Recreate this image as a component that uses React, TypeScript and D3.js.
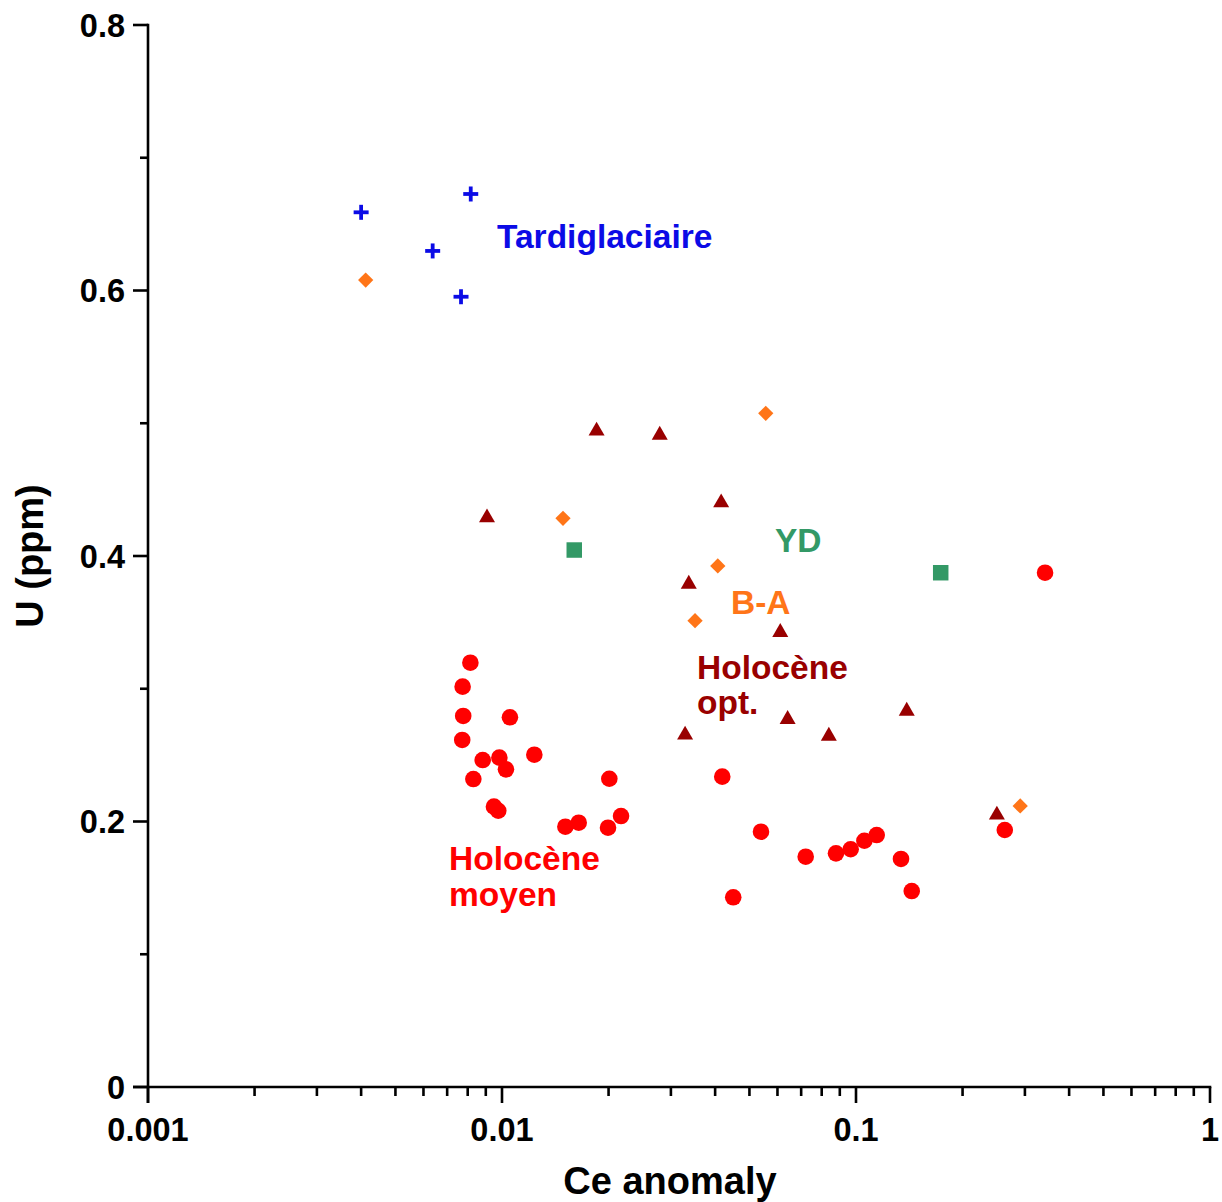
import React from "react";
import * as d3 from "d3";

// ---- data (Ce anomaly, U ppm) ----
const tardiX = [0.004, 0.00816, 0.00637, 0.00766];
const tardiY = [0.6589, 0.6727, 0.6298, 0.5953];

const baX = [0.00412, 0.0556, 0.01487, 0.0407, 0.0351, 0.291];
const baY = [0.6079, 0.5075, 0.4284, 0.3925, 0.3513, 0.2117];

const ydX = [0.016, 0.1735];
const ydY = [0.4045, 0.3874];

const optX = [0.0185, 0.0279, 0.00907, 0.0416, 0.0337, 0.0611, 0.0641, 0.1391, 0.0329, 0.0838, 0.25];
const optY = [0.4942, 0.4911, 0.4289, 0.4402, 0.3789, 0.3425, 0.277, 0.2832, 0.2652, 0.2644, 0.2049];

const moyX = [
  0.00814, 0.00774, 0.00777, 0.01053, 0.00772, 0.00882, 0.00983, 0.01026, 0.01234, 0.0083,
  0.00949, 0.00976, 0.0201, 0.0151, 0.01647, 0.01993, 0.02169, 0.0419, 0.045, 0.0539,
  0.0721, 0.0878, 0.0966, 0.1056, 0.1144, 0.134, 0.1437, 0.2632, 0.342,
];
const moyY = [
  0.3196, 0.3016, 0.2795, 0.2785, 0.2614, 0.2463, 0.2481, 0.2393, 0.2503, 0.232,
  0.2112, 0.2081, 0.2322, 0.1961, 0.1991, 0.1953, 0.2041, 0.2338, 0.1429, 0.1923,
  0.1735, 0.176, 0.1791, 0.1855, 0.1898, 0.1718, 0.1476, 0.1936, 0.3874,
];

const xMajor = [0.001, 0.01, 0.1, 1];
const xMajorLabels = ["0.001", "0.01", "0.1", "1"];
const yMajor = [0, 0.2, 0.4, 0.6, 0.8];
const yMajorLabels = ["0", "0.2", "0.4", "0.6", "0.8"];
const yMinor = [0.1, 0.3, 0.5, 0.7];

const xTitle = "Ce anomaly";
const yTitle = "U (ppm)";

const COL_BLUE = "#0b0be6";
const COL_ORANGE = "#ff7518";
const COL_GREEN = "#339966";
const COL_DARKRED = "#990000";
const COL_RED = "#ff0000";

const FONT = "'Liberation Sans', Arial, Helvetica, sans-serif";

export default function App() {
  const W = 1222;
  const H = 1202;
  const x = d3.scaleLog().domain([0.001, 1]).range([148, 1210]);
  const y = d3.scaleLinear().domain([0, 0.8]).range([1087, 25]);
  const x0 = x.range()[0];
  const y0 = y.range()[0];

  const xMinor = x.ticks().filter((t) => !xMajor.some((m) => Math.abs(m - t) / m < 1e-6));

  const circle = d3.symbol().type(d3.symbolCircle).size(Math.PI * 8.3 * 8.3)()!;
  const tri = d3.symbol().type(d3.symbolTriangle).size((16 * 16 * Math.sqrt(3)) / 4)()!;
  const square = d3.symbol().type(d3.symbolSquare).size(15.5 * 15.5)()!;
  const diamond = d3.symbol().type(d3.symbolSquare).size(10.8 * 10.8)()!;

  const pts = (xs: number[], ys: number[]) => xs.map((v, i) => [x(v), y(ys[i])] as [number, number]);

  return (
    <svg
      width={W}
      height={H}
      style={{ position: "absolute", left: 0, top: 0, background: "#fff" }}
      fontFamily={FONT}
    >
      <rect width={W} height={H} fill="#fff" />
      {/* axes */}
      <g stroke="#000" strokeWidth={2.6} fill="none">
        <line x1={x0} x2={x0} y1={y(0.8) - 1.3} y2={y0 + 16} />
        <line x1={x0 - 15} x2={x(1) + 1.3} y1={y0} y2={y0} />
        {yMajor.map((t) => (
          <line key={"ym" + t} x1={x0 - 15} x2={x0} y1={y(t)} y2={y(t)} />
        ))}
        {yMinor.map((t) => (
          <line key={"yn" + t} x1={x0 - 8} x2={x0} y1={y(t)} y2={y(t)} />
        ))}
        {xMajor.map((t) => (
          <line key={"xm" + t} x1={x(t)} x2={x(t)} y1={y0} y2={y0 + 16} />
        ))}
        {xMinor.map((t) => (
          <line key={"xn" + t} x1={x(t)} x2={x(t)} y1={y0} y2={y0 + 9} />
        ))}
      </g>
      <g fontWeight="bold" fontSize={32.5} fill="#000">
        {yMajor.map((t, i) => (
          <text key={"yl" + t} x={x0 - 23} y={y(t)} dy="0.36em" textAnchor="end">
            {yMajorLabels[i]}
          </text>
        ))}
        {xMajor.map((t, i) => (
          <text key={"xl" + t} x={x(t)} y={y0 + 54} textAnchor="middle">
            {xMajorLabels[i]}
          </text>
        ))}
      </g>
      <text x={670} y={1194} textAnchor="middle" fontWeight="bold" fontSize={38} fill="#000">
        {xTitle}
      </text>
      <text
        transform={`translate(43, ${(y(0) + y(0.8)) / 2}) rotate(-90)`}
        textAnchor="middle"
        fontWeight="bold"
        fontSize={38}
        fill="#000"
      >
        {yTitle}
      </text>

      {/* marks */}
      <g fill={COL_RED}>
        {pts(moyX, moyY).map(([px, py], i) => (
          <path key={"c" + i} d={circle} transform={`translate(${px},${py})`} />
        ))}
      </g>
      <g fill={COL_DARKRED}>
        {pts(optX, optY).map(([px, py], i) => (
          <path key={"t" + i} d={tri} transform={`translate(${px},${py})`} />
        ))}
      </g>
      <g fill={COL_GREEN}>
        {pts(ydX, ydY).map(([px, py], i) => (
          <path key={"s" + i} d={square} transform={`translate(${px},${py})`} />
        ))}
      </g>
      <g fill={COL_ORANGE}>
        {pts(baX, baY).map(([px, py], i) => (
          <path key={"d" + i} d={diamond} transform={`translate(${px},${py}) rotate(45)`} />
        ))}
      </g>
      <g stroke={COL_BLUE} strokeWidth={3.8}>
        {pts(tardiX, tardiY).map(([px, py], i) => (
          <g key={"p" + i}>
            <line x1={px - 7.5} x2={px + 7.5} y1={py} y2={py} />
            <line x1={px} x2={px} y1={py - 7.5} y2={py + 7.5} />
          </g>
        ))}
      </g>

      {/* annotations */}
      <g fontWeight="bold" fontSize={33.5}>
        <text x={497} y={248} fill={COL_BLUE}>Tardiglaciaire</text>
        <text x={775} y={552} fill={COL_GREEN}>YD</text>
        <text x={731} y={614} fill={COL_ORANGE}>B-A</text>
        <text x={697} y={679} fill={COL_DARKRED}>Holocène</text>
        <text x={697} y={714} fill={COL_DARKRED}>opt.</text>
        <text x={449} y={870} fill={COL_RED}>Holocène</text>
        <text x={449} y={906} fill={COL_RED}>moyen</text>
      </g>
    </svg>
  );
}
